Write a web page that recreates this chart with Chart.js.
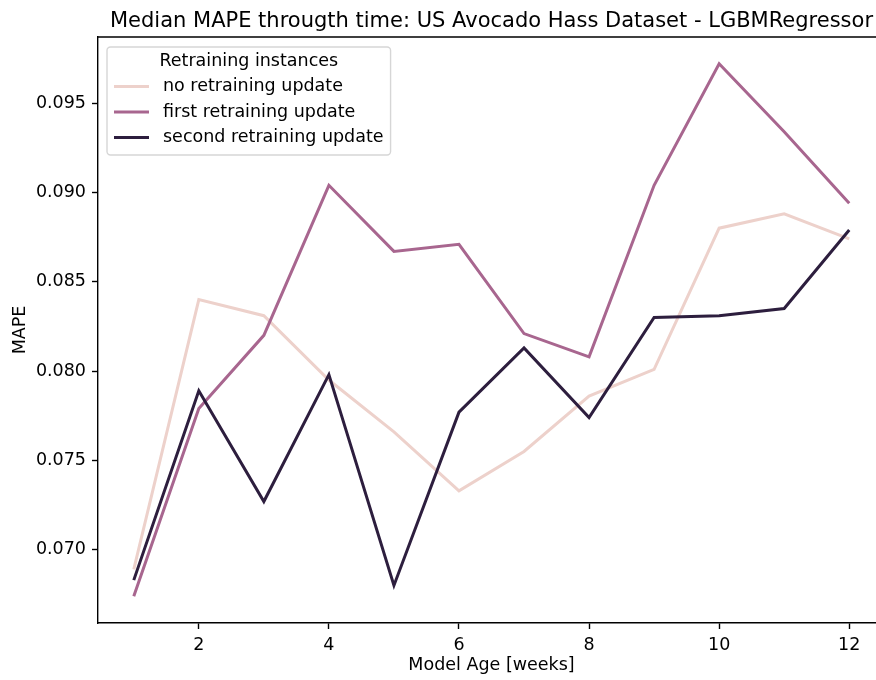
<!DOCTYPE html>
<html lang="en">
<head>
  <meta charset="UTF-8">
  <title>Median MAPE througth time</title>
  <!-- Charts.js -->
  <script src="https://cdn.jsdelivr.net/npm/chart.js"></script>
  <style>
    body{margin:0;background:#fff;}
    #wrap{width:876px;height:680px;overflow:hidden;}
  </style>
</head>
<body>
  <div id="wrap"><canvas id="mapeChart" width="890" height="680"></canvas></div>
  <script>
    // values
    const modelAge = [1, 2, 3, 4, 5, 6, 7, 8, 9, 10, 11, 12];
    const noRetraining = [0.0689, 0.0840, 0.0831, 0.0795, 0.0766, 0.0733, 0.0755, 0.0786, 0.0801, 0.0880, 0.0888, 0.0874];
    const firstRetraining = [0.0674, 0.0779, 0.0820, 0.0904, 0.0867, 0.0871, 0.0821, 0.0808, 0.0904, 0.0972, 0.0934, 0.0894];
    const secondRetraining = [0.0683, 0.0789, 0.0727, 0.0798, 0.0680, 0.0777, 0.0813, 0.0774, 0.0830, 0.0831, 0.0835, 0.0879];
    const seriesLabels = ['no retraining update', 'first retraining update', 'second retraining update'];
    const xTicks = [2, 4, 6, 8, 10, 12];
    const yTicks = [0.070, 0.075, 0.080, 0.085, 0.090, 0.095];

    const titleText = 'Median MAPE througth time: US Avocado Hass Dataset - LGBMRegressor';
    const legendTitle = 'Retraining instances';
    const colors = ['#edd1cb', '#a8668f', '#2d1e3e'];
    const FONT = '"DejaVu Sans", sans-serif';
    const LINE_W = 3;

    function points(values) {
      return modelAge.map((x, i) => ({x: x, y: values[i]}));
    }

    // title, top/right spines and the boxed legend, matplotlib style
    const extras = {
      id: 'extras',
      afterDatasetsDraw(chart) {
        const ctx = chart.ctx, a = chart.chartArea;
        ctx.save();
        ctx.strokeStyle = '#000';
        ctx.lineWidth = 1.4;
        ctx.beginPath();
        ctx.moveTo(a.left, a.top);
        ctx.lineTo(a.right, a.top);
        ctx.lineTo(a.right, a.bottom);
        ctx.stroke();

        ctx.fillStyle = '#000';
        ctx.font = '21px ' + FONT;
        ctx.textAlign = 'center';
        ctx.textBaseline = 'alphabetic';
        ctx.fillText(titleText, (a.left + a.right) / 2, 26.5);

        // legend
        const fs = 17.5;
        ctx.font = fs + 'px ' + FONT;
        const sets = chart.data.datasets;
        const textW = Math.max(...sets.map(d => ctx.measureText(d.label).width));
        const x0 = a.left + 9, y0 = a.top + 10;
        const w = 56 + textW + 7, h = 108;
        ctx.beginPath();
        ctx.roundRect(x0, y0, w, h, 3.5);
        ctx.fillStyle = 'rgba(255,255,255,0.8)';
        ctx.fill();
        ctx.strokeStyle = 'rgba(204,204,204,0.8)';
        ctx.lineWidth = 1.4;
        ctx.stroke();

        ctx.fillStyle = '#000';
        ctx.textBaseline = 'middle';
        ctx.fillText(legendTitle, x0 + w / 2, y0 + 14);
        ctx.textAlign = 'left';
        sets.forEach((d, i) => {
          const y = y0 + 14 + 25.5 * (i + 1);
          ctx.strokeStyle = d.borderColor;
          ctx.lineWidth = LINE_W;
          ctx.beginPath();
          ctx.moveTo(x0 + 7, y);
          ctx.lineTo(x0 + 42, y);
          ctx.stroke();
          ctx.fillStyle = '#000';
          ctx.fillText(d.label, x0 + 56, y);
        });
        ctx.restore();
      }
    };

    const tickFont = {family: FONT, size: 17.5};

    new Chart(document.getElementById('mapeChart'), {
      type: 'line',
      data: {
        datasets: [
          {label: seriesLabels[0], data: points(noRetraining), borderColor: colors[0], order: 3},
          {label: seriesLabels[1], data: points(firstRetraining), borderColor: colors[1], order: 2},
          {label: seriesLabels[2], data: points(secondRetraining), borderColor: colors[2], order: 1}
        ]
      },
      options: {
        responsive: false,
        animation: false,
        layout: {padding: {top: 37, right: 5, left: 0, bottom: 0}},
        elements: {
          point: {radius: 0},
          line: {tension: 0, borderWidth: LINE_W, fill: false, borderCapStyle: 'butt'}
        },
        plugins: {
          legend: {display: false},
          title: {display: false},
          tooltip: {enabled: false}
        },
        scales: {
          x: {
            type: 'linear',
            min: 0.45,
            max: 12.55,
            afterBuildTicks: s => { s.ticks = xTicks.map(v => ({value: v})); },
            afterFit: s => { s.height = 57; },
            grid: {drawOnChartArea: false, drawTicks: true, tickLength: 6, tickWidth: 1.4, tickColor: '#000'},
            border: {color: '#000', width: 1.4},
            ticks: {color: '#000', font: tickFont, padding: 6, maxRotation: 0, callback: v => String(v)},
            title: {display: true, text: 'Model Age [weeks]', color: '#000', font: tickFont, padding: {top: 4, bottom: 4}}
          },
          y: {
            min: 0.0659,
            max: 0.0987,
            afterBuildTicks: s => { s.ticks = yTicks.map(v => ({value: v})); },
            afterFit: s => { s.width = 98; },
            grid: {drawOnChartArea: false, drawTicks: true, tickLength: 6, tickWidth: 1.4, tickColor: '#000'},
            border: {color: '#000', width: 1.4},
            ticks: {color: '#000', font: tickFont, padding: 6, callback: v => v.toFixed(3)},
            title: {display: true, text: 'MAPE', color: '#000', font: tickFont, padding: {top: 10, bottom: 0}}
          }
        }
      },
      plugins: [extras]
    });
  </script>
</body>
</html>
